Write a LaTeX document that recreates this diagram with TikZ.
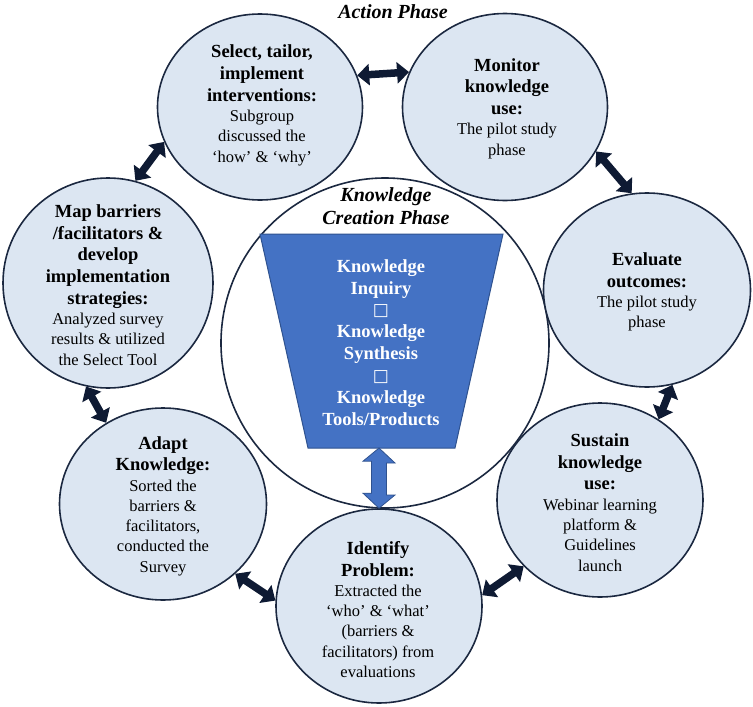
\documentclass[tikz,border=0pt]{standalone}
\usepackage{fontspec}
\setmainfont{Liberation Serif}
\newfontfamily\symf{DejaVu Sans}
\usetikzlibrary{shapes.geometric,arrows.meta}
\definecolor{bubfill}{HTML}{DCE6F2}
\definecolor{navy}{HTML}{1B2840}
\definecolor{darr}{HTML}{0E1A33}
\definecolor{funblue}{HTML}{4472C4}
\definecolor{funline}{HTML}{2F528F}
\tikzset{
  bub/.style={ellipse,draw=navy,line width=1.6pt,fill=bubfill,inner sep=0pt},
  bigc/.style={ellipse,draw=navy,line width=1.6pt,fill=white,inner sep=0pt},
  txt/.style={align=center,inner sep=0pt,text=black,font=\fontsize{16.5}{20.3}\selectfont},
  phase/.style={inner sep=0pt,align=center,font=\bfseries\itshape\fontsize{20}{23}\selectfont},
  darrow/.style={line width=7.5pt,draw=darr,{Triangle[length=12pt,width=21pt]}-{Triangle[length=12pt,width=21pt]}},
  funnel/.style={fill=funblue,draw=funline,line width=1pt},
  bluearr/.style={fill=funblue,draw=funline,line width=0.8pt,line join=miter}
}
\newcommand{\B}[1]{{\bfseries\fontsize{18.5}{21.7}\selectfont #1}}
\newcommand{\Bx}{{\symf\fontsize{17}{17}\selectfont □}}
\begin{document}
\begin{tikzpicture}[x=1pt,y=-1pt]
\useasboundingbox (0,0) rectangle (753,707);
% central circle
\node[bigc,minimum width=328pt,minimum height=330pt] (kc) at (385,343) {};
% funnel
\draw[funnel] (260,234) -- (503,234) -- (455,448) -- (308,448) -- cycle;
\coordinate (funb) at (379,448);
% outer circles
\node[bub,minimum width=205pt,minimum height=186pt] (sel) at (260,107) {};
\node[bub,minimum width=205pt,minimum height=187pt] (mon) at (505,107) {};
\node[bub,minimum width=207pt,minimum height=194pt] (eva) at (647,290) {};
\node[bub,minimum width=206pt,minimum height=194pt] (sus) at (600,500) {};
\node[bub,minimum width=206pt,minimum height=194pt] (idp) at (379,606) {};
\node[bub,minimum width=207pt,minimum height=192pt] (ada) at (163,504) {};
\node[bub,minimum width=210pt,minimum height=210pt] (map) at (108,283) {};
% texts
\node[phase] (ap) at (393,12) {Action Phase};
\node[phase] (kcp) at (386,206.5) {Knowledge\\Creation Phase};
\node[txt,text=white] (funt) at (381,342.5) {\B{Knowledge}\\[1.6pt]\B{Inquiry}\\[1.6pt]\Bx\\[1.6pt]\B{Knowledge}\\[1.6pt]\B{Synthesis}\\[1.6pt]\Bx\\[1.6pt]\B{Knowledge}\\[1.6pt]\B{Tools/Products}};
\node[txt] (selt) at (262,105.5) {\B{Select, tailor,}\\[1.4pt]\B{implement}\\[1.4pt]\B{interventions:}\\Subgroup\\discussed the\\‘how’ \& ‘why’};
\node[txt] (mont) at (507,108.5) {\B{Monitor}\\[1.4pt]\B{knowledge}\\[1.4pt]\B{use:}\\The pilot study\\phase};
\node[txt] (mapt) at (108,285) {\B{Map barriers}\\[1.4pt]\B{/facilitators \&}\\[1.4pt]\B{develop}\\[1.4pt]\B{implementation}\\[1.4pt]\B{strategies:}\\Analyzed survey\\results \& utilized\\the Select Tool};
\node[txt] (adat) at (163,506) {\B{Adapt}\\[1.4pt]\B{Knowledge:}\\Sorted the\\barriers \&\\facilitators,\\conducted the\\Survey};
\node[txt] (evat) at (647,292) {\B{Evaluate}\\[1.4pt]\B{outcomes:}\\The pilot study\\phase};
\node[txt] (sust) at (600,502.5) {\B{Sustain}\\[1.4pt]\B{knowledge}\\[1.4pt]\B{use:}\\Webinar learning\\platform \&\\Guidelines\\launch};
\node[txt] (idpt) at (378,609.5) {\B{Identify}\\[1.4pt]\B{Problem:}\\Extracted the\\‘who’ \& ‘what’\\(barriers \&\\facilitators) from\\evaluations};
% dark arrows
\draw[darrow] (sel.18) -- (mon.160);
\draw[darrow] (mon.334) -- (eva.99);
\draw[darrow] (eva.285) -- (sus.54);
\draw[darrow] (sus.221) -- (idp.6);
\draw[darrow] (idp.177) -- (ada.316);
\draw[darrow] (ada.125) -- (map.258);
\draw[darrow] (map.75) -- (sel.200);
% blue double arrow
\draw[bluearr] (funb) -- ++(16,15) -- ++(-8.5,0) -- ++(0,32) -- ++(8.5,0) -- (idp.north) -- ++(-16,-15) -- ++(8.5,0) -- ++(0,-32) -- ++(-8.5,0) -- cycle;
\end{tikzpicture}
\end{document}
